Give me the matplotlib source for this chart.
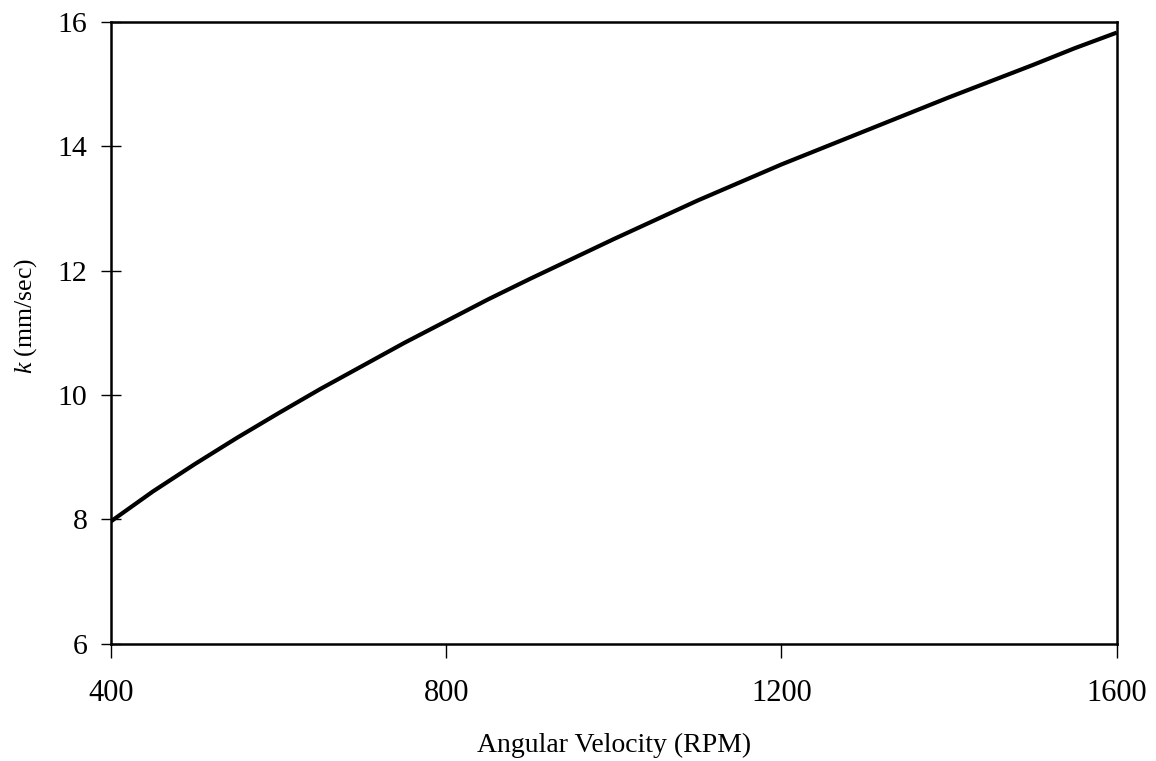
import matplotlib.pyplot as plt

# Angular velocity (RPM) and mass transfer coefficient k (mm/sec)
rpm = [400, 450, 500, 550, 600, 650, 700, 750, 800, 850, 900, 950, 1000,
       1050, 1100, 1150, 1200, 1250, 1300, 1350, 1400, 1450, 1500, 1550, 1600]
k_vals = [7.97, 8.45, 8.89, 9.31, 9.71, 10.10, 10.47, 10.84, 11.19, 11.54, 11.87, 12.19, 12.51,
          12.82, 13.13, 13.42, 13.71, 13.98, 14.25, 14.52, 14.79, 15.05, 15.31, 15.58, 15.83]

x_ticks = [400, 800, 1200, 1600]
y_ticks = [6, 8, 10, 12, 14, 16]

plt.rcParams['font.family'] = ['Liberation Serif', 'DejaVu Serif']
plt.rcParams['mathtext.fontset'] = 'custom'
plt.rcParams['mathtext.it'] = 'Liberation Serif:italic'
plt.rcParams['mathtext.rm'] = 'Liberation Serif'

fig = plt.figure(figsize=(11.56, 7.61), dpi=100)
ax = fig.add_axes([0.096, 0.154, 0.870, 0.817])

ax.plot(rpm, k_vals, color='black', linewidth=3.0, solid_capstyle='butt')

ax.set_xlim(400, 1600)
ax.set_ylim(6, 16)
ax.set_xticks(x_ticks)
ax.set_yticks(y_ticks)

for s in ax.spines.values():
    s.set_linewidth(1.8)
    s.set_color('black')

ax.tick_params(axis='y', direction='inout', length=14, width=1.0, labelsize=21.5, pad=10)
ax.tick_params(axis='x', direction='out', length=10, width=1.0, labelsize=22, pad=15)

ax.set_xlabel('Angular Velocity (RPM)', fontsize=20, labelpad=18)
ax.set_ylabel(r'$k$ (mm/sec)', fontsize=18.5)
ax.yaxis.set_label_coords(-0.0716, 0.527)

fig.savefig('out.png', dpi=100)
